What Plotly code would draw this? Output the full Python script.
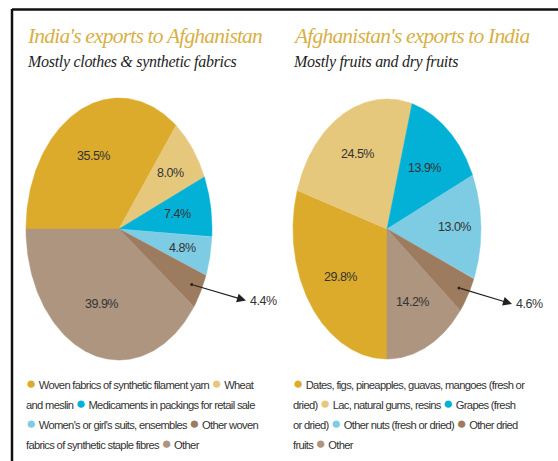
import numpy as np
import plotly.graph_objects as go

# ---- data -------------------------------------------------------------
india_items = [
    "Woven fabrics of synthetic filament yarn",
    "Wheat and meslin",
    "Medicaments in packings for retail sale",
    "Women's or girl's suits, ensembles",
    "Other woven fabrics of synthetic staple fibres",
    "Other",
]
india_share = [35.5, 8.0, 7.4, 4.8, 4.4, 39.9]

afghan_items = [
    "Dates, figs, pineapples, guavas, mangoes (fresh or dried)",
    "Lac, natural gums, resins",
    "Grapes (fresh or dried)",
    "Other nuts (fresh or dried)",
    "Other dried fruits",
    "Other",
]
afghan_share = [29.8, 24.5, 13.9, 13.0, 4.6, 14.2]

# ---- style ------------------------------------------------------------
slice_colors = ["#DCAB2C", "#E6C87D", "#03B1D6", "#7DCCE4", "#9D7B5E", "#AD9580"]
title_color = "#D8B044"
text_color = "#333333"
serif = "Liberation Serif, DejaVu Serif, serif"
sans = "Liberation Sans, Arial, sans-serif"


def narrow(s, ls):
    """Tighten letter spacing to get a condensed look."""
    return f"<span style='letter-spacing:{ls}px'>{s}</span>"


W, H = 558, 461

# pie geometry (pixel space): centre, radii, start angle (deg), label radius fractions
pies = [
    dict(items=india_items, vals=india_share, cx=119, cy=229, rx=93, ry=131, start=180,
         lab_r=[0.62, 0.70, 0.64, 0.70, None, 0.60], side="left"),
    dict(items=afghan_items, vals=afghan_share, cx=387, cy=229, rx=94, ry=130, start=270,
         lab_r=[0.62, 0.66, 0.62, 0.72, None, 0.62], side="right"),
]

fig = go.Figure()
annotations = []

for p in pies:
    vals = np.array(p["vals"], dtype=float)
    fracs = vals / vals.sum()
    a0 = np.radians(p["start"])
    for i, (name, f) in enumerate(zip(p["items"], fracs)):
        a1 = a0 - 2 * np.pi * f  # clockwise
        t = np.linspace(a0, a1, 120)
        xs = np.concatenate([[p["cx"]], p["cx"] + p["rx"] * np.cos(t), [p["cx"]]])
        ys = np.concatenate([[p["cy"]], p["cy"] - p["ry"] * np.sin(t), [p["cy"]]])
        fig.add_trace(go.Scatter(
            x=xs, y=ys, mode="lines", fill="toself",
            fillcolor=slice_colors[i], line=dict(color=slice_colors[i], width=0.5),
            name=name, hoverinfo="text", text=f"{name}: {p['vals'][i]:.1f}%",
            showlegend=False,
        ))
        mid = (a0 + a1) / 2
        label = narrow(f"{p['vals'][i]:.1f}%", -0.5)
        if p["lab_r"][i] is not None:
            r = p["lab_r"][i]
            annotations.append(dict(
                x=p["cx"] + r * p["rx"] * np.cos(mid), y=p["cy"] - r * p["ry"] * np.sin(mid),
                xref="x", yref="y", text=label, showarrow=False,
                font=dict(family=sans, size=12.5, color=text_color),
            ))
        else:
            # small slice: arrow out to a label on the right
            tx = p["cx"] + 0.89 * p["rx"] * np.cos(mid)
            ty = p["cy"] - 0.89 * p["ry"] * np.sin(mid)
            hx = p["cx"] + p["rx"] + (34 if p["side"] == "left" else 31)
            hy = ty + 16
            annotations.append(dict(
                x=hx, y=hy, ax=tx, ay=ty, xref="x", yref="y", axref="x", ayref="y",
                text="", showarrow=True, arrowhead=2, arrowsize=1.5, arrowwidth=1.2,
                arrowcolor="#222222",
            ))
            fig.add_trace(go.Scatter(
                x=[tx], y=[ty], mode="markers", marker=dict(size=3, color="#222222"),
                hoverinfo="skip", showlegend=False,
            ))
            annotations.append(dict(
                x=hx + 2, y=hy, xref="x", yref="y", text=label, showarrow=False,
                xanchor="left", font=dict(family=sans, size=12.5, color=text_color),
            ))
        a0 = a1

# ---- titles -----------------------------------------------------------
titles = [
    (25, "India's exports to Afghanistan", "Mostly clothes & synthetic fabrics"),
    (291, "Afghanistan's exports to India", "Mostly fruits and dry fruits"),
]
for x0, head, sub in titles:
    annotations.append(dict(
        x=x0, y=36, xref="x", yref="y", xanchor="left", yanchor="middle",
        text=f"<i>{narrow(head, -0.8)}</i>", showarrow=False,
        font=dict(family=serif, size=21.5, color=title_color),
    ))
    annotations.append(dict(
        x=x0, y=62, xref="x", yref="y", xanchor="left", yanchor="middle",
        text=f"<i>{narrow(sub, -0.3)}</i>", showarrow=False,
        font=dict(family=serif, size=16, color="#1e1e1e"),
    ))

# ---- legends ----------------------------------------------------------
def dot(i):
    return f"<span style='color:{slice_colors[i]};font-size:17px;letter-spacing:0px'>●</span>"

legend_lines = [
    [
        f"{dot(0)} Woven fabrics of synthetic filament yarn {dot(1)} Wheat",
        f"and meslin {dot(2)} Medicaments in packings for retail sale",
        f"{dot(3)} Women's or girl's suits, ensembles {dot(4)} Other woven",
        f"fabrics of synthetic staple fibres {dot(5)} Other",
    ],
    [
        f"{dot(0)} Dates, figs, pineapples, guavas, mangoes (fresh or",
        f"dried) {dot(1)} Lac, natural gums, resins {dot(2)} Grapes (fresh",
        f"or dried) {dot(3)} Other nuts (fresh or dried) {dot(4)} Other dried",
        f"fruits {dot(5)} Other",
    ],
]
for x0, lines in zip([24, 291], legend_lines):
    for k, line in enumerate(lines):
        annotations.append(dict(
            x=x0, y=383 + 20.3 * k, xref="x", yref="y", xanchor="left", yanchor="middle",
            text=narrow(line, -0.68), showarrow=False,
            font=dict(family=sans, size=11.2, color="#333333"),
        ))

# ---- frame ------------------------------------------------------------
shapes = [
    dict(type="line", x0=12, x1=12, y0=9, y1=H, xref="x", yref="y",
         line=dict(color="#111111", width=2.5)),
    dict(type="line", x0=12, x1=W, y0=9.5, y1=9.5, xref="x", yref="y",
         line=dict(color="#111111", width=2.5)),
]

fig.update_layout(
    width=W, height=H, margin=dict(l=0, r=0, t=0, b=0),
    paper_bgcolor="white", plot_bgcolor="white",
    xaxis=dict(range=[0, W], visible=False, fixedrange=True),
    yaxis=dict(range=[H, 0], visible=False, fixedrange=True),
    annotations=annotations, shapes=shapes, showlegend=False,
)

fig.write_html("out.html")
